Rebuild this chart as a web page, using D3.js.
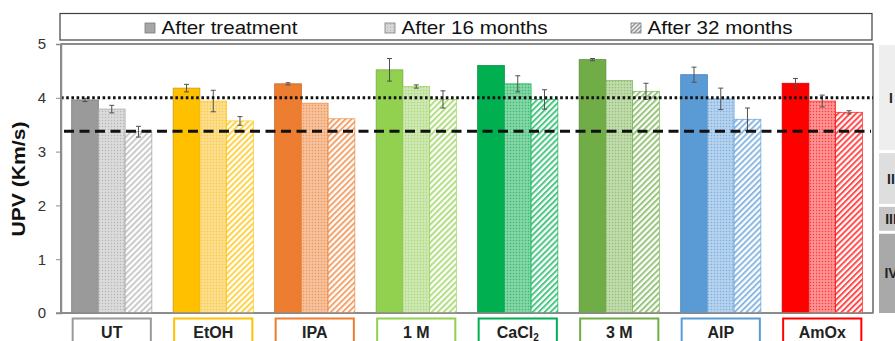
<!DOCTYPE html>
<html>
<head>
<meta charset="utf-8">
<script src="https://cdn.jsdelivr.net/npm/d3@7"></script>
<style>
  html, body { margin: 0; padding: 0; background: #fff; }
  svg { display: block; font-family: Arial, "Liberation Sans", sans-serif; }
</style>
</head>
<body>
<svg id="chart" width="895" height="341"></svg>
<script>
// Treatments (groups) and the three measurement campaigns
const categories = ["UT", "EtOH", "IPA", "1 M", "CaCl2", "3 M", "AlP", "AmOx"];
const seriesNames = ["After treatment", "After 16 months", "After 32 months"];

// Ultrasonic pulse velocity (km/s), mean values
const afterTreatment = [3.96, 4.18, 4.26, 4.52, 4.60, 4.71, 4.43, 4.27];
const after16Months  = [3.79, 3.94, 3.90, 4.21, 4.26, 4.32, 3.98, 3.94];
const after32Months  = [3.37, 3.57, 3.61, 3.97, 3.97, 4.12, 3.60, 3.73];

// Standard deviations
const errTreatment = [0.03, 0.07, 0.02, 0.21, 0.00, 0.02, 0.14, 0.09];
const err16Months  = [0.07, 0.20, 0.00, 0.03, 0.15, 0.00, 0.20, 0.11];
const err32Months  = [0.10, 0.08, 0.00, 0.16, 0.18, 0.15, 0.21, 0.03];

// Reference levels
const dottedLevel = 4.0;
const dashedLevel = 3.38;

// Y axis ticks
const yTicks = [0, 1, 2, 3, 4, 5];

// Quality classes on the right-hand side
const classNames = ["I", "II", "III", "IV"];
const classTop    = [5.0, 3.0, 2.0, 1.5];
const classBottom = [3.0, 2.0, 1.5, 0.0];
const classFill   = ["#eeeeee", "#dedede", "#c6c6c6", "#a9a9a9"];

// Group colours: solid, tint, edge
const mainColors = ["#9a9a9a", "#ffc000", "#ed7d31", "#92d050", "#00b050", "#70ad47", "#5b9bd5", "#ff0000"];
const tintColors = ["#d6d6d6", "#fbd980", "#f5b98f", "#c8e5a8", "#74cf99", "#b8d6a1", "#abcbeb", "#ff8585"];
const edgeColors = ["#7a7a7a", "#c99800", "#c0611f", "#72a83c", "#00863c", "#568a36", "#3f7cb4", "#c80000"];

const values = [afterTreatment, after16Months, after32Months];
const errors = [errTreatment, err16Months, err32Months];

const svg = d3.select("#chart");
const margin = { left: 61, right: 873, top: 44, bottom: 313 };

const y = d3.scaleLinear().domain([0, 5]).range([margin.bottom, margin.top]);
const x = d3.scaleBand().domain(categories).range([margin.left, margin.right])
  .paddingInner(0.21).paddingOuter(0.105);
const xs = d3.scaleBand().domain(d3.range(3)).range([0, x.bandwidth()]).padding(0);

// Fill patterns
const defs = svg.append("defs");
categories.forEach((c, i) => {
  const dots = defs.append("pattern").attr("id", "dots" + i)
    .attr("patternUnits", "userSpaceOnUse").attr("width", 3).attr("height", 3);
  dots.append("rect").attr("width", 3).attr("height", 3).attr("fill", tintColors[i]);
  dots.append("rect").attr("width", 1).attr("height", 1).attr("fill", mainColors[i]).attr("opacity", 0.55);
  dots.append("rect").attr("x", 1.5).attr("y", 1.5).attr("width", 1).attr("height", 1).attr("fill", "#fff").attr("opacity", 0.5);

  const hatch = defs.append("pattern").attr("id", "hatch" + i)
    .attr("patternUnits", "userSpaceOnUse").attr("width", 4.2).attr("height", 4.2)
    .attr("patternTransform", "rotate(45)");
  hatch.append("rect").attr("width", 4.2).attr("height", 4.2).attr("fill", "#fff");
  hatch.append("rect").attr("width", 2).attr("height", 4.2).attr("fill", i === 0 ? "#b4b4b4" : mainColors[i]).attr("opacity", 0.7);
});
// Legend swatch patterns (grey)
{
  const d = defs.append("pattern").attr("id", "legDots").attr("patternUnits", "userSpaceOnUse").attr("width", 3).attr("height", 3);
  d.append("rect").attr("width", 3).attr("height", 3).attr("fill", "#d6d6d6");
  d.append("rect").attr("width", 1).attr("height", 1).attr("fill", "#9a9a9a").attr("opacity", 0.55);
  const h = defs.append("pattern").attr("id", "legHatch").attr("patternUnits", "userSpaceOnUse").attr("width", 3).attr("height", 3).attr("patternTransform", "rotate(45)");
  h.append("rect").attr("width", 3).attr("height", 3).attr("fill", "#fff");
  h.append("rect").attr("width", 1.5).attr("height", 3).attr("fill", "#8a8a8a");
}

// Class bands on the right
const bandG = svg.append("g");
classNames.forEach((nm, i) => {
  const yt = y(classTop[i]) + (i === 0 ? 1 : 1.5);
  const yb = y(classBottom[i]) - (i === classNames.length - 1 ? 0 : 1.5);
  bandG.append("rect").attr("x", 879).attr("y", yt).attr("width", 20).attr("height", yb - yt).attr("fill", classFill[i]);
  bandG.append("text").attr("x", 891).attr("y", (yt + yb) / 2).attr("dy", "0.36em")
    .attr("text-anchor", "middle").attr("font-size", 14).attr("font-weight", "bold").attr("fill", "#222").text(nm);
});

// Plot frame
svg.append("rect").attr("x", margin.left).attr("y", margin.top)
  .attr("width", margin.right - margin.left).attr("height", margin.bottom - margin.top)
  .attr("fill", "#fff").attr("stroke", "#404040").attr("stroke-width", 1.2);

// Bars
const barG = svg.append("g");
categories.forEach((c, i) => {
  for (let s = 0; s < 3; s++) {
    const v = values[s][i];
    const fill = s === 0 ? mainColors[i] : (s === 1 ? `url(#dots${i})` : `url(#hatch${i})`);
    barG.append("rect")
      .attr("x", x(c) + xs(s)).attr("y", y(v))
      .attr("width", xs.bandwidth()).attr("height", y(0) - y(v))
      .attr("fill", fill)
      .attr("stroke", s === 0 ? edgeColors[i] : mainColors[i])
      .attr("stroke-width", 0.8)
      .attr("stroke-opacity", s === 0 ? 0.9 : 0.8);
  }
});

// Error bars
const errG = svg.append("g").attr("stroke", "#505050").attr("stroke-width", 1);
categories.forEach((c, i) => {
  for (let s = 0; s < 3; s++) {
    const e = errors[s][i];
    if (e <= 0) continue;
    const cx = x(c) + xs(s) + xs.bandwidth() / 2;
    const v = values[s][i];
    errG.append("line").attr("x1", cx).attr("x2", cx).attr("y1", y(v + e)).attr("y2", y(v - e));
    errG.append("line").attr("x1", cx - 2.5).attr("x2", cx + 2.5).attr("y1", y(v + e)).attr("y2", y(v + e));
    errG.append("line").attr("x1", cx - 2.5).attr("x2", cx + 2.5).attr("y1", y(v - e)).attr("y2", y(v - e));
  }
});

// Reference lines
svg.append("line").attr("x1", margin.left).attr("x2", margin.right)
  .attr("y1", y(dottedLevel)).attr("y2", y(dottedLevel))
  .attr("stroke", "#111").attr("stroke-width", 3).attr("stroke-dasharray", "2.6,2.6");
svg.append("line").attr("x1", margin.left + 3).attr("x2", margin.right - 2)
  .attr("y1", y(dashedLevel)).attr("y2", y(dashedLevel))
  .attr("stroke", "#111").attr("stroke-width", 3).attr("stroke-dasharray", "10,5.5");

// Y axis
const yAxis = svg.append("g").attr("transform", `translate(${margin.left},0)`)
  .call(d3.axisLeft(y).tickValues(yTicks).tickSize(5).tickPadding(10).tickFormat(d3.format("d")));
yAxis.select(".domain").attr("stroke", "#8c8c8c").attr("stroke-width", 1.5);
yAxis.selectAll(".tick line").attr("stroke", "#8c8c8c");
yAxis.selectAll(".tick text").attr("font-size", 15).attr("fill", "#333")
  .attr("font-family", "Arial, 'Liberation Sans', sans-serif");

// X baseline
svg.append("line").attr("x1", margin.left - 5).attr("x2", margin.right)
  .attr("y1", y(0)).attr("y2", y(0)).attr("stroke", "#8c8c8c").attr("stroke-width", 1.5);

// Y title
svg.append("text").attr("transform", "translate(25,179) rotate(-90)")
  .attr("text-anchor", "middle").attr("font-size", 18).attr("font-weight", "bold").attr("fill", "#111")
  .attr("textLength", 115).attr("lengthAdjust", "spacingAndGlyphs")
  .text("UPV (Km/s)");

// Category label boxes
categories.forEach((c, i) => {
  const g = svg.append("g");
  g.append("rect").attr("x", x(c) + 1).attr("y", 318.5).attr("width", x.bandwidth() - 2).attr("height", 30)
    .attr("fill", "#fff").attr("stroke", mainColors[i]).attr("stroke-width", 2);
  const t = g.append("text").attr("x", x(c) + x.bandwidth() / 2).attr("y", 338)
    .attr("text-anchor", "middle").attr("font-size", 16).attr("font-weight", "bold").attr("fill", "#222");
  if (c === "CaCl2") {
    t.append("tspan").text("CaCl");
    t.append("tspan").attr("font-size", 10).attr("dy", 2.5).text("2");
  } else {
    t.text(c);
  }
});

// Legend
const legend = svg.append("g");
legend.append("rect").attr("x", 60).attr("y", 13.5).attr("width", 812).attr("height", 26.5)
  .attr("fill", "#fff").attr("stroke", "#404040").attr("stroke-width", 1.2);
const legX = [145, 385, 631];
const legTextLen = [136, 146, 145];
const legFill = ["#a6a6a6", "url(#legDots)", "url(#legHatch)"];
seriesNames.forEach((nm, s) => {
  legend.append("rect").attr("x", legX[s]).attr("y", 23).attr("width", 10).attr("height", 10)
    .attr("fill", legFill[s]).attr("stroke", "#7a7a7a").attr("stroke-width", 0.8);
  legend.append("text").attr("x", legX[s] + 16.5).attr("y", 34.3).attr("font-size", 19)
    .attr("textLength", legTextLen[s]).attr("lengthAdjust", "spacingAndGlyphs")
    .attr("fill", "#111").text(nm);
});
</script>
</body>
</html>
